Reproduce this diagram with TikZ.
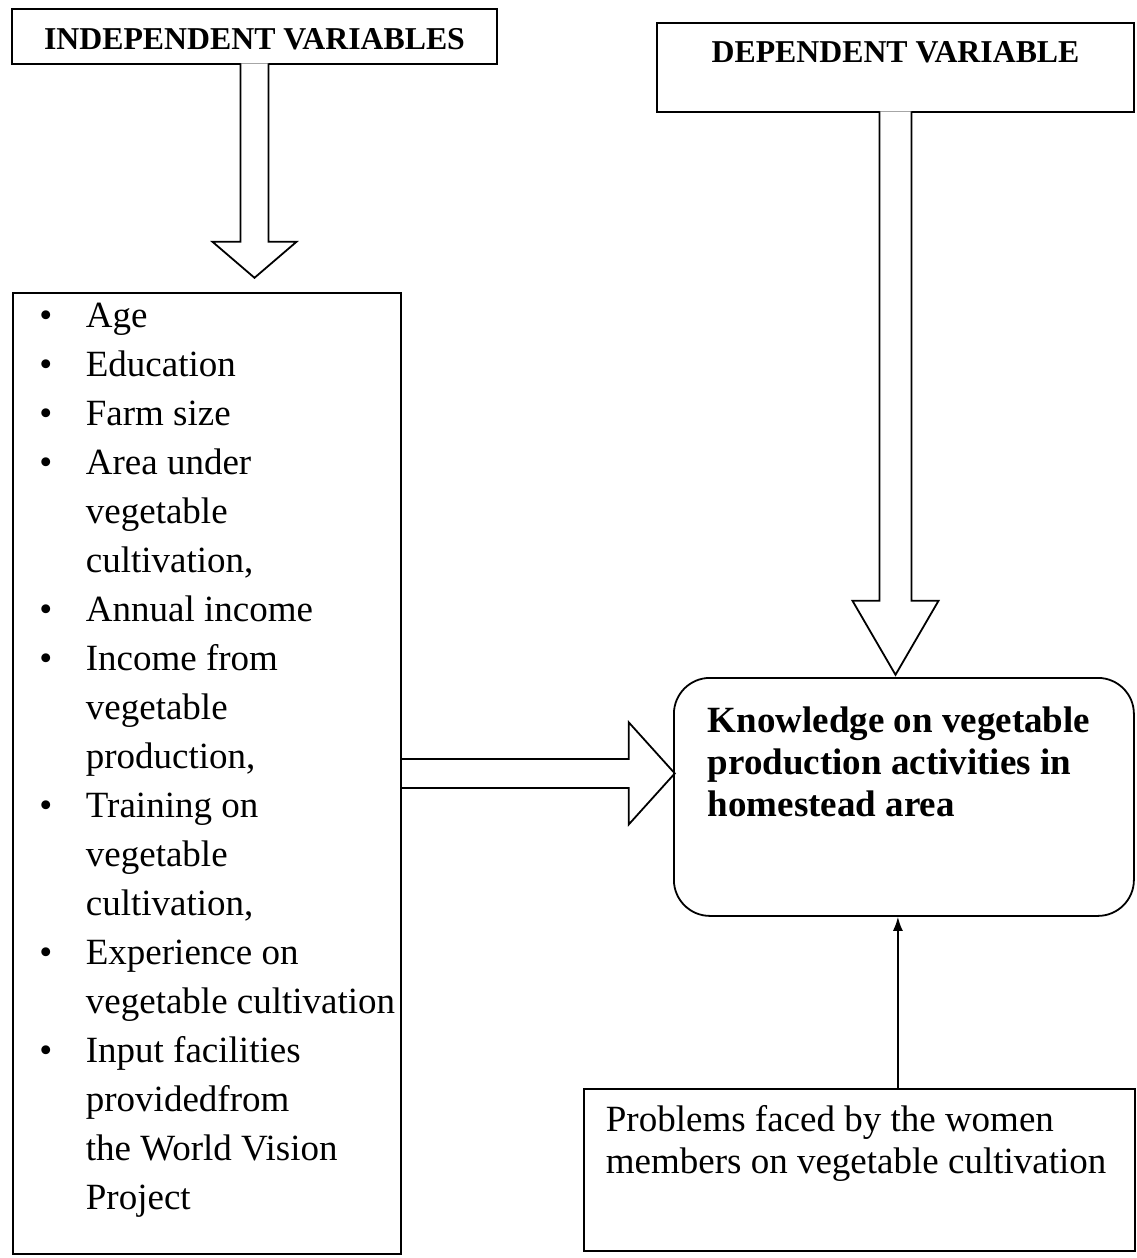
\documentclass[tikz,border=0pt]{standalone}
\usepackage{fontspec}
\setmainfont{Liberation Serif}
\usetikzlibrary{arrows.meta}
\begin{document}
\begin{tikzpicture}[x=1pt, y=1pt, line width=1.8pt,
  box/.style={draw, rectangle, inner sep=0pt},
  head/.style={box, anchor=north, font=\bfseries\fontsize{31.8}{38}\selectfont},
  hollow/.style={draw, fill=white, line join=miter},
  txt/.style={anchor=base west, inner sep=0pt, font=\fontsize{37}{49}\selectfont}]
  \useasboundingbox (0,0) rectangle (1136,-1258);
  % boxes
  \node[head, minimum width=485pt, text height=40.5pt, text depth=14.5pt] (indep) at (254.5,-8) {INDEPENDENT VARIABLES};
  \node[head, minimum width=477pt, text height=40pt, text depth=49pt] (dep) at (895.5,-22) {DEPENDENT VARIABLE};
  \node[box, anchor=north west, minimum width=388pt, minimum height=961pt] (vars) at (12,-292) {};
  \node[box, anchor=north west, rounded corners=36pt, minimum width=460pt, minimum height=238pt] (know) at (673,-677) {};
  \node[box, anchor=north west, minimum width=551pt, minimum height=162pt] (prob) at (583,-1088) {};
  % texts
  \node[txt] (varlist) at ([xshift=26.5pt,yshift=-35pt]vars.north west) {%
    \begin{tabular}[t]{@{}p{46.5pt}@{}l@{}}
    \textbullet & Age\\
    \textbullet & Education\\
    \textbullet & Farm size\\
    \textbullet & Area under\\
                & vegetable\\
                & cultivation,\\
    \textbullet & Annual income\\
    \textbullet & Income from\\
                & vegetable\\
                & production,\\
    \textbullet & Training on\\
                & vegetable\\
                & cultivation,\\
    \textbullet & Experience on\\
                & vegetable cultivation\\
    \textbullet & Input facilities\\
                & providedfrom\\
                & the World Vision\\
                & Project
    \end{tabular}};
  \node[txt, font=\bfseries\fontsize{37}{42}\selectfont] (knowtxt) at ([xshift=34pt,yshift=-55pt]know.north west) {%
    \begin{tabular}[t]{@{}l@{}}
    Knowledge on vegetable\\
    production activities in\\
    homestead area
    \end{tabular}};
  \node[txt, font=\fontsize{37}{42}\selectfont] (probtxt) at ([xshift=22pt,yshift=-43pt]prob.north west) {%
    \begin{tabular}[t]{@{}l@{}}
    Problems faced by the women\\
    members on vegetable cultivation
    \end{tabular}};
  % hollow arrows
  \draw[hollow] ([xshift=-14pt,yshift=1.5pt]indep.south) -- ++(0,-178.5) -- ++(-28,0) -- ++(42,-36)
    -- ++(42,36) -- ++(-28,0) -- ([xshift=14pt,yshift=1.5pt]indep.south);
  \draw[hollow] ([xshift=-16pt,yshift=1.5pt]dep.south) -- ++(0,-489.5) -- ++(-27,0) -- ++(43,-74)
    -- ++(43,74) -- ++(-27,0) -- ([xshift=16pt,yshift=1.5pt]dep.south);
  \draw[line join=miter] ([yshift=14.5pt]vars.east) -- ++(227,0) -- ++(0,36.5) -- ++(46,-51)
    -- ++(-46,-51) -- ++(0,36.5) -- ([yshift=-14.5pt]vars.east);
  % problems to knowledge
  \draw[-{Latex[length=14pt,width=10pt]}] ([xshift=-6pt]know.south |- prob.north) -- ([xshift=-6pt]know.south);
\end{tikzpicture}
\end{document}
